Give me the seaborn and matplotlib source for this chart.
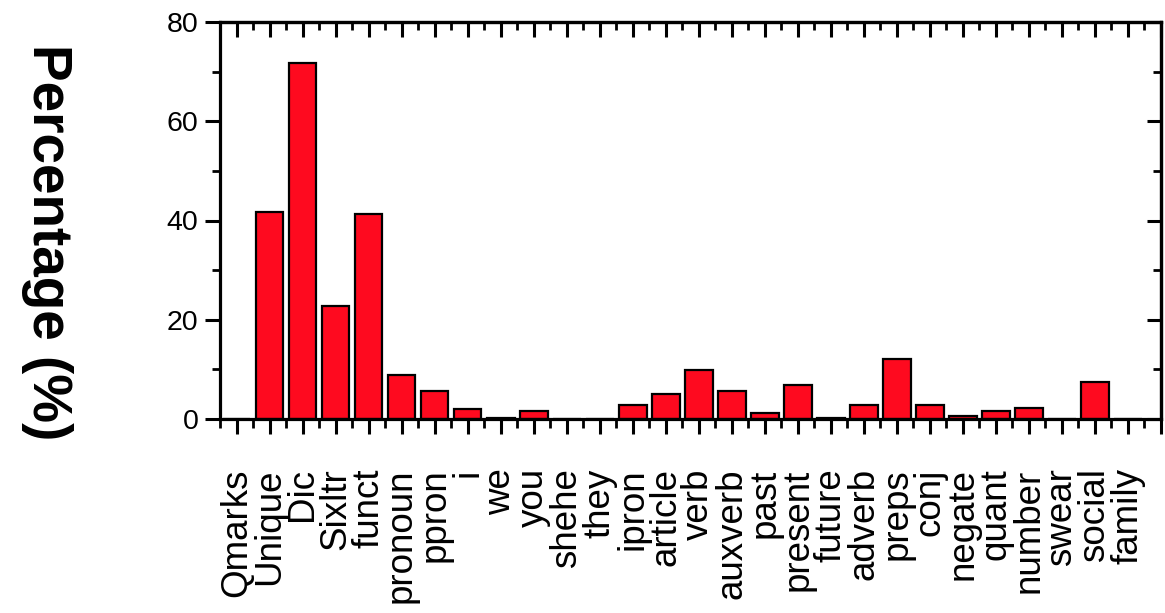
import numpy as np
import matplotlib
matplotlib.use("Agg")
import matplotlib.pyplot as plt
import seaborn as sns
from matplotlib.ticker import MultipleLocator, FixedLocator

categories = ["Qmarks", "Unique", "Dic", "Sixltr", "funct", "pronoun", "ppron", "i",
              "we", "you", "shehe", "they", "ipron", "article", "verb", "auxverb",
              "past", "present", "future", "adverb", "preps", "conj", "negate",
              "quant", "number", "swear", "social", "family"]
percentages = [0.0, 41.7, 71.8, 22.7, 41.3, 8.8, 5.6, 2.1, 0.3, 1.7, 0.1, 0.1,
               2.9, 5.0, 9.9, 5.7, 1.2, 6.8, 0.3, 2.9, 12.0, 2.8, 0.7, 1.7,
               2.2, 0.0, 7.4, 0.1]

sns.set_style("ticks")
plt.rcParams['font.family'] = ['Liberation Sans', 'DejaVu Sans']
plt.rcParams['text.color'] = 'black'
plt.rcParams['xtick.color'] = 'black'
plt.rcParams['ytick.color'] = 'black'
plt.rcParams['axes.edgecolor'] = 'black'

fig = plt.figure(figsize=(11.65, 6.13), dpi=100)
ax = fig.add_axes([220 / 1165, 1 - 419 / 613, (1161 - 220) / 1165, (419 - 22) / 613])

sns.barplot(x=categories, y=percentages, color="#fe0a1f", saturation=1,
            edgecolor="black", linewidth=1.6, width=0.84, ax=ax)

ax.set_xlim(-0.5, 28)
ax.set_ylim(0, 80)
ax.set_xlabel("")
ax.set_ylabel("")

# bottom / left ticks point out
ax.xaxis.set_major_locator(FixedLocator(np.arange(0, 29)))
ax.xaxis.set_minor_locator(FixedLocator(np.arange(-0.5, 28, 1)))
ax.set_xticklabels(categories + [""], rotation=90, fontsize=26.5)
ax.yaxis.set_major_locator(MultipleLocator(20))
ax.yaxis.set_minor_locator(MultipleLocator(10))
ax.tick_params(axis="y", labelsize=20.5)
ax.tick_params(axis="x", which="major", direction="out", length=10.5, width=2.2, pad=25)
ax.tick_params(axis="x", which="minor", direction="out", length=6.5, width=2.0)
ax.tick_params(axis="y", which="major", direction="out", length=10.5, width=2.2, pad=5)
ax.tick_params(axis="y", which="minor", direction="out", length=5.5, width=2.0)
ax.tick_params(which="both", colors="black", labelcolor="black")

for s in ax.spines.values():
    s.set_visible(True)
    s.set_linewidth(2.3)
    s.set_color("black")

# top / right ticks point in
top = ax.secondary_xaxis("top")
top.xaxis.set_major_locator(FixedLocator(np.arange(0, 29)))
top.xaxis.set_minor_locator(FixedLocator(np.arange(-0.5, 28, 1)))
top.tick_params(which="major", direction="in", length=11, width=2.2, labeltop=False, colors="black")
top.tick_params(which="minor", direction="in", length=6, width=2.0, colors="black")
top.spines["top"].set_linewidth(2.3)
top.spines["top"].set_color("black")

right = ax.secondary_yaxis("right")
right.yaxis.set_major_locator(MultipleLocator(20))
right.yaxis.set_minor_locator(MultipleLocator(10))
right.tick_params(which="major", direction="in", length=10, width=2.2, labelright=False, colors="black")
right.tick_params(which="minor", direction="in", length=5.5, width=2.0, colors="black")
right.spines["right"].set_linewidth(2.3)
right.spines["right"].set_color("black")

fig.text(47 / 1165, 1 - 242 / 613, "Percentage (%)", rotation=-90, fontsize=39.5,
         fontweight="bold", ha="center", va="center", color="black")

fig.savefig("out.png", dpi=100)
